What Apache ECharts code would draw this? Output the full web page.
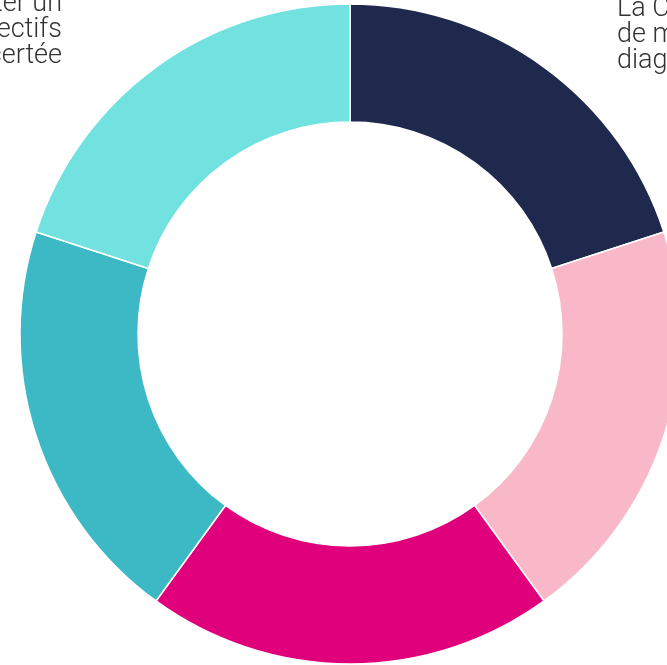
<!DOCTYPE html>
<html>
<head>
<meta charset="utf-8">
<script src="https://cdn.jsdelivr.net/npm/echarts@6/dist/echarts.min.js"></script>
<style>
  html, body { margin: 0; padding: 0; background: #fff; }
  #chart { width: 667px; height: 665px; }
</style>
</head>
<body>
<div id="chart"></div>
<script>
// five equal parts of the ring, clockwise from the top
const names = [
  'La Commune\nde mener un\ndiagnostic',
  'Les acteurs\nde partager\nles constats',
  'Les habitants\nde participer\naux ateliers',
  'Les élus\nde valider\nles priorités',
  'Définir et porter un\nprojet et des objectifs\nde façon concertée'
];
const values = [20, 20, 20, 20, 20];
const colors = ['#1f294d', '#f8b8c8', '#e0007b', '#3db8c5', '#71e2df'];
// which labels are drawn (the others fall outside the picture)
const showLabel = [true, false, false, false, true];

const chart = echarts.init(document.getElementById('chart'));

const lineLen = [
  { length: 39, length2: 45 },
  null, null, null,
  { length: 46, length2: 62 }
];

const data = names.map((n, i) => {
  const item = {
    name: n,
    value: values[i],
    itemStyle: { color: colors[i] },
    label: { show: showLabel[i] }
  };
  if (lineLen[i]) item.labelLine = Object.assign({ show: false }, lineLen[i]);
  return item;
});

chart.setOption({
  animation: false,
  series: [{
    type: 'pie',
    center: [350, 334],
    radius: [212, 330],
    startAngle: 90,
    clockwise: true,
    avoidLabelOverlap: false,
    itemStyle: { borderColor: '#fff', borderWidth: 1.5 },
    label: {
      position: 'outside',
      color: '#333',
      fontFamily: 'Roboto',
      fontWeight: 300,
      fontSize: 27,
      lineHeight: 26
    },
    labelLine: { show: false },
    emphasis: { disabled: true },
    data: data
  }]
});
</script>
</body>
</html>
